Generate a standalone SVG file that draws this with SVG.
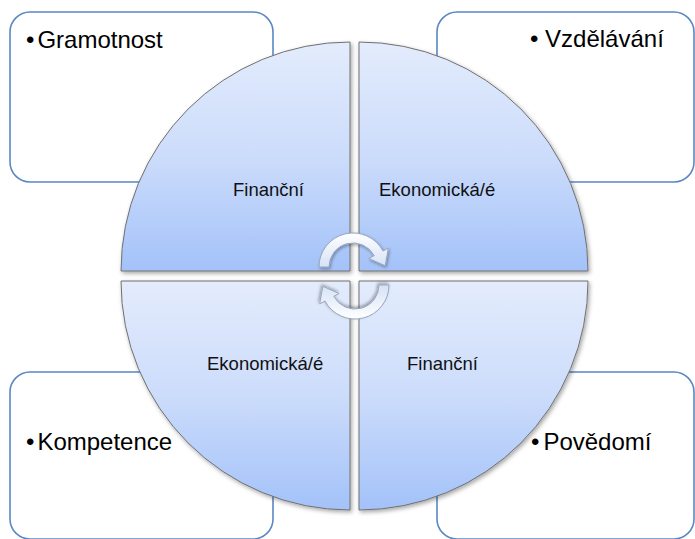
<svg xmlns="http://www.w3.org/2000/svg" width="695" height="539" viewBox="0 0 695 539">
  <style>
    .box { fill: #ffffff; stroke: #5b87c4; stroke-width: 1.6; }
    .quad { fill: url(#qgrad); stroke: #707070; stroke-width: 1; filter: url(#shadow); }
    .arrow { fill: url(#agrad); stroke: #98a6bb; stroke-width: 1; filter: url(#ashadow); }
    .big { font-family: "Liberation Sans", Arial, sans-serif; font-size: 24px; fill: #000000; }
    .lbl { font-family: "Liberation Sans", Arial, sans-serif; font-size: 18.5px; fill: #111111; }
  </style>
  <defs>
    <linearGradient id="qgrad" x1="0" y1="0" x2="0" y2="1">
      <stop offset="0" stop-color="#e3ecfc"/>
      <stop offset="0.5" stop-color="#ccdcfb"/>
      <stop offset="1" stop-color="#a3c2f9"/>
    </linearGradient>
    <linearGradient id="agrad" x1="0" y1="0" x2="0" y2="1">
      <stop offset="0" stop-color="#ffffff"/>
      <stop offset="1" stop-color="#d6e2f7"/>
    </linearGradient>
    <filter id="shadow" x="-10%" y="-10%" width="120%" height="120%">
      <feDropShadow dx="1.5" dy="2" stdDeviation="2" flood-color="#000000" flood-opacity="0.35"/>
    </filter>
    <filter id="ashadow" x="-30%" y="-30%" width="160%" height="160%">
      <feDropShadow dx="1" dy="1.5" stdDeviation="1.5" flood-color="#000000" flood-opacity="0.35"/>
    </filter>
    <path id="arr" d="M -34 0 A 34 34 0 0 1 30.0 -16.0 L 35.3 -18.8 L 32.2 -1.3 L 15.9 -8.5 L 21.2 -11.3 A 24 24 0 0 0 -24 0 Z"/>
  </defs>

  <g id="box-gramotnost">
    <rect class="box" x="10" y="12" width="263" height="170" rx="20" ry="20"/>
    <text class="big" x="26" y="48">•<tspan dx="3">Gramotnost</tspan></text>
  </g>
  <g id="box-vzdelavani">
    <rect class="box" x="437" y="12" width="257" height="170" rx="20" ry="20"/>
    <text class="big" x="530" y="47">• Vzdělávání</text>
  </g>
  <g id="box-kompetence">
    <rect class="box" x="10" y="372" width="263" height="167" rx="20" ry="20"/>
    <text class="big" x="26" y="450">•<tspan dx="3">Kompetence</tspan></text>
  </g>
  <g id="box-povedomi">
    <rect class="box" x="437" y="372" width="257" height="167" rx="20" ry="20"/>
    <text class="big" x="531" y="450">•<tspan dx="4">Povědomí</tspan></text>
  </g>

  <g id="quad-tl">
    <path class="quad" d="M350,271 L121,271 A229,229 0 0 1 350,42 Z"/>
    <text class="lbl" x="233" y="196">Finanční</text>
  </g>
  <g id="quad-tr">
    <path class="quad" d="M359,271 L359,42 A229,229 0 0 1 588,271 Z"/>
    <text class="lbl" x="379" y="196">Ekonomická/é</text>
  </g>
  <g id="quad-bl">
    <path class="quad" d="M350,281 L350,510 A229,229 0 0 1 121,281 Z"/>
    <text class="lbl" x="207" y="370">Ekonomická/é</text>
  </g>
  <g id="quad-br">
    <path class="quad" d="M359,281 L588,281 A229,229 0 0 1 359,510 Z"/>
    <text class="lbl" x="407" y="370">Finanční</text>
  </g>

  <g id="connectors">
    <use href="#arr" class="arrow" transform="translate(353,267)"/>
    <use href="#arr" class="arrow" transform="rotate(180,354,276) translate(353,267)"/>
  </g>
</svg>
